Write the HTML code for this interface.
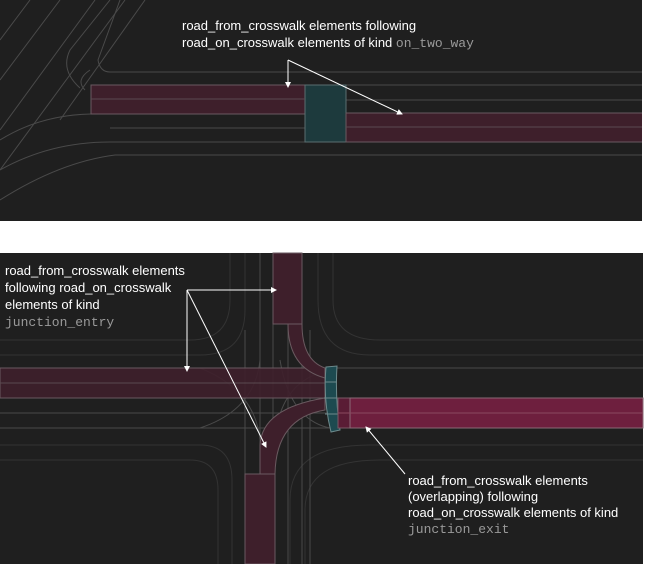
<!DOCTYPE html>
<html><head><meta charset="utf-8"><style>
html,body{margin:0;padding:0;background:#fff;width:645px;height:564px;overflow:hidden}
svg{display:block}
.t{font-family:"Liberation Sans",sans-serif;font-size:13px;fill:#fff}
.m{font-family:"Liberation Mono",monospace;font-size:13px;fill:#9a9a9a}
.g{stroke:#4a4a4a;stroke-width:1;fill:none}
.g2{stroke:#333;stroke-width:1;fill:none}
</style></head><body>
<svg width="645" height="564" viewBox="0 0 645 564" xmlns="http://www.w3.org/2000/svg">
<defs><marker id="a" markerWidth="6" markerHeight="6" refX="5" refY="3" orient="auto" markerUnits="userSpaceOnUse"><path d="M0,0 L6,3 L0,6 z" fill="#fff"/></marker>
<clipPath id="c1"><rect x="0" y="0" width="642" height="221"/></clipPath></defs>
<!-- top panel -->
<rect x="0" y="0" width="642" height="221" fill="#1f1f1f"/>
<g clip-path="url(#c1)">
<g class="g">
<path d="M30,0 L0,40 M60,0 L0,80 M95,0 L0,130 M125,0 L0,170 M145,0 L60,120"/>
<path d="M90,70 Q75,80 85,90 M110,0 L70,50 Q60,70 80,88"/>
<path d="M645,72 L110,72 Q100,72 98,60 L120,0"/>
<path d="M0,140 Q40,115 91,114 L645,114"/>
<path d="M0,170 Q50,142 110,142 L645,142"/>
<path d="M0,200 Q60,162 115,155 L645,155"/>
<path d="M91,100 L645,100 M110,128 L645,128"/>
<path d="M100,85 L645,85"/>
</g>
<rect x="91" y="85" width="214" height="29" fill="#3e1f2b" stroke="#6a5a60"/>
<rect x="305" y="85" width="41" height="57" fill="#1d3a3d" stroke="#5a6e70"/>
<rect x="346" y="113" width="299" height="29" fill="#3e1f2b" stroke="#6a5a60"/>
<line x1="91" y1="99" x2="305" y2="99" stroke="#5a4a50"/>
<line x1="346" y1="127" x2="645" y2="127" stroke="#5a4a50"/>
</g>
<text class="t" x="182" y="30">road_from_crosswalk elements following</text>
<text class="t" x="182" y="47">road_on_crosswalk elements of kind <tspan class="m">on_two_way</tspan></text>
<line x1="288" y1="60" x2="288" y2="87" stroke="#fff" marker-end="url(#a)"/>
<line x1="288" y1="60" x2="402" y2="114" stroke="#fff" marker-end="url(#a)"/>
<!-- bottom panel -->
<rect x="0" y="253" width="643" height="311" fill="#1f1f1f"/>
<g class="g2">
<path d="M0,355 L200,355 Q245,355 245,310 L245,253"/>
<path d="M0,340 L190,340 Q230,340 230,300 L230,253"/>
<path d="M0,445 L200,445 Q232,445 232,480 L232,564"/>
<path d="M0,460 L190,460 Q218,460 218,490 L218,564"/>
<path d="M643,355 L370,355 Q318,355 318,300 L318,253"/>
<path d="M643,340 L380,340 Q333,340 333,300 L333,253"/>
<path d="M643,445 L370,445 Q290,445 290,500 L290,564"/>
<path d="M643,460 L380,460 Q305,460 305,510 L305,564"/>
</g>
<g class="g">
<path d="M0,383 L325,383 M0,413 L643,413 M0,428 L643,428 M0,368 L643,368 M0,398 L643,398"/>
<path d="M260,253 L260,564 M273,253 L273,564 M288,253 L288,564 M302,253 L302,564 M245,330 L245,564 M310,330 L310,564"/>
<path d="M200,368 Q255,390 260,440 M330,370 Q280,380 275,440 M200,428 Q255,410 260,360 M330,428 Q290,420 280,360"/>
</g>
<rect x="0" y="368" width="325" height="30" fill="#3e1f2b" stroke="#6a5a60" fill-opacity="0.9"/>
<line x1="0" y1="383" x2="325" y2="383" stroke="#5a4a50"/>
<rect x="273" y="253" width="29" height="71" fill="#3e1f2b" stroke="#6a5a60"/>
<path d="M288,324 L302,324 Q302,360 325,368 L325,378 Q288,368 288,324 Z" fill="#3e1f2b" stroke="#6a5a60"/>
<rect x="245" y="474" width="30" height="90" fill="#3e1f2b" stroke="#6a5a60"/>
<path d="M260,474 L260,445 Q262,408 325,398 L325,410 Q276,418 275,474 Z" fill="#3e1f2b" stroke="#6a5a60"/>
<path d="M326,367 L337,366 Q335,398 340,430 L331,432 Q323,400 326,367 Z" fill="#1d4a50" stroke="#6e8a8c"/>
<line x1="325" y1="382" x2="337" y2="382" stroke="#6e8a8c"/><line x1="324" y1="398" x2="337" y2="398" stroke="#6e8a8c"/><line x1="325" y1="414" x2="338" y2="414" stroke="#6e8a8c"/>
<rect x="338" y="398" width="12" height="30" fill="#5a1c35" stroke="#7a5a66"/>
<rect x="350" y="398" width="293" height="30" fill="#6e1f3e" stroke="#8a6a76"/>
<line x1="338" y1="413" x2="643" y2="413" stroke="#8a4a60"/>
<text class="t" x="5" y="275">road_from_crosswalk elements</text>
<text class="t" x="5" y="292">following road_on_crosswalk</text>
<text class="t" x="5" y="309">elements of kind</text>
<text class="m" x="5" y="326">junction_entry</text>
<line x1="187" y1="290" x2="276" y2="290" stroke="#fff" marker-end="url(#a)"/>
<line x1="187" y1="290" x2="187" y2="371" stroke="#fff" marker-end="url(#a)"/>
<line x1="187" y1="290" x2="266" y2="447" stroke="#fff" marker-end="url(#a)"/>
<line x1="405" y1="474" x2="366" y2="427" stroke="#fff" marker-end="url(#a)"/>
<text class="t" x="408" y="485">road_from_crosswalk elements</text>
<text class="t" x="408" y="501">(overlapping) following</text>
<text class="t" x="408" y="517">road_on_crosswalk elements of kind</text>
<text class="m" x="408" y="533">junction_exit</text>
</svg>
</body></html>
